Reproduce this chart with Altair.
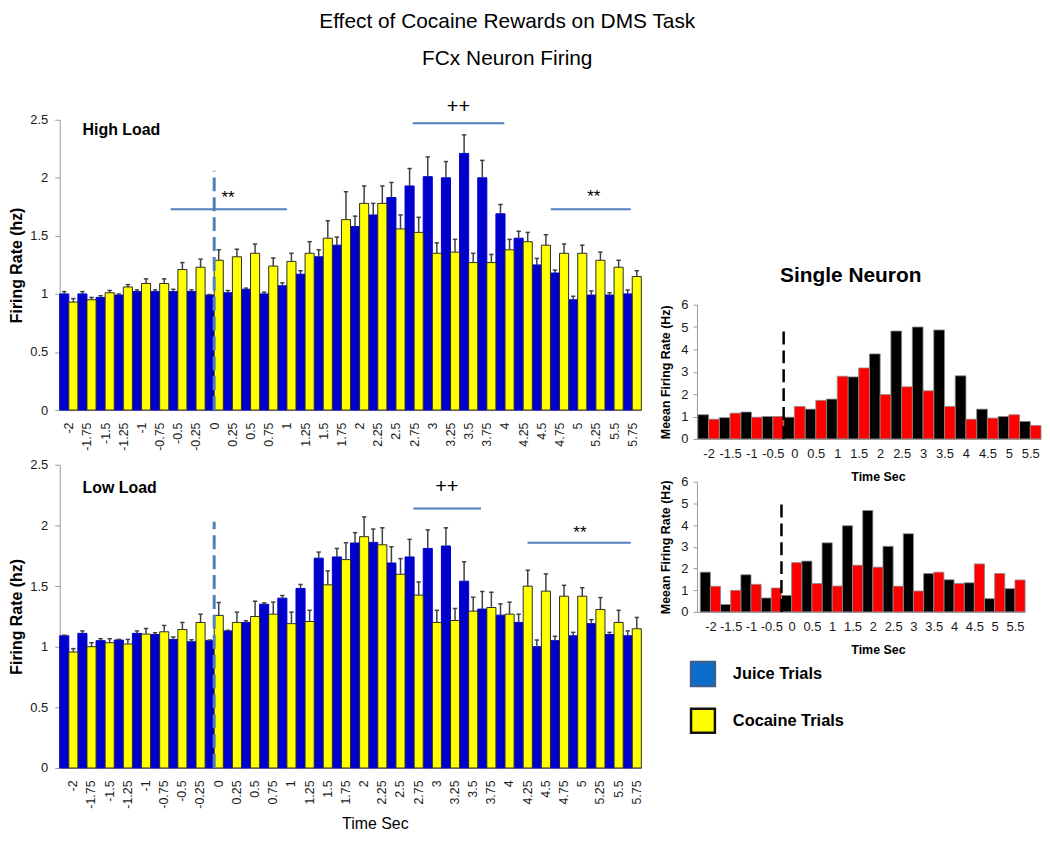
import altair as alt
import pandas as pd

FONT = "Liberation Sans"

main_title = ["Effect of Cocaine Rewards on DMS Task", "FCx Neuron Firing"]
series_names = ["Juice", "Cocaine"]
bar_colors = ["#0000cc", "#ffff00"]
bar_strokes = ["#0000cc", "#2b2b2b"]

times = [-2, -1.75, -1.5, -1.25, -1, -0.75, -0.5, -0.25, 0, 0.25, 0.5, 0.75, 1, 1.25, 1.5, 1.75,
         2, 2.25, 2.5, 2.75, 3, 3.25, 3.5, 3.75, 4, 4.25, 4.5, 4.75, 5, 5.25, 5.5, 5.75]

high_juice = [1.00, 1.00, 0.97, 0.99, 1.02, 1.02, 1.02, 1.02, 0.99, 1.01, 1.04, 1.00, 1.07, 1.17, 1.32, 1.42,
              1.58, 1.68, 1.83, 1.93, 2.01, 2.00, 2.21, 2.00, 1.69, 1.48, 1.25, 1.18, 0.95, 0.99, 0.99, 1.00]
high_juice_err = [0.02, 0.02, 0.015, 0.01, 0.015, 0.015, 0.02, 0.015, 0.005, 0.02, 0.01, 0.015, 0.025, 0.03, 0.06, 0.07,
                  0.09, 0.10, 0.13, 0.15, 0.17, 0.14, 0.16, 0.15, 0.08, 0.06, 0.056, 0.026, 0.03, 0.036, 0.02, 0.034]
high_cocaine = [0.93, 0.95, 1.01, 1.06, 1.09, 1.09, 1.21, 1.23, 1.29, 1.32, 1.35, 1.24, 1.28, 1.35, 1.48, 1.64,
                1.78, 1.78, 1.56, 1.53, 1.35, 1.36, 1.27, 1.27, 1.38, 1.45, 1.42, 1.35, 1.35, 1.29, 1.23, 1.15]
high_cocaine_err = [0.03, 0.02, 0.02, 0.02, 0.04, 0.04, 0.06, 0.07, 0.09, 0.065, 0.08, 0.07, 0.07, 0.10, 0.15, 0.24,
                    0.15, 0.15, 0.12, 0.13, 0.09, 0.11, 0.08, 0.07, 0.09, 0.08, 0.09, 0.08, 0.07, 0.07, 0.06, 0.05]

low_juice = [1.09, 1.11, 1.05, 1.055, 1.11, 1.10, 1.06, 1.04, 1.05, 1.13, 1.20, 1.35, 1.40, 1.48, 1.73, 1.74,
             1.855, 1.86, 1.69, 1.74, 1.81, 1.83, 1.54, 1.31, 1.26, 1.20, 1.00, 1.05, 1.09, 1.19, 1.10, 1.09]
low_juice_err = [0.005, 0.02, 0.016, 0.005, 0.02, 0.015, 0.02, 0.017, 0.005, 0.005, 0.014, 0.011, 0.022, 0.033, 0.05, 0.07,
                 0.085, 0.11, 0.134, 0.145, 0.153, 0.15, 0.16, 0.145, 0.093, 0.068, 0.055, 0.036, 0.028, 0.033, 0.018, 0.04]
low_cocaine = [0.956, 1.00, 1.033, 1.022, 1.104, 1.123, 1.142, 1.20, 1.258, 1.20, 1.249, 1.268, 1.19, 1.208, 1.51, 1.718,
               1.907, 1.84, 1.597, 1.425, 1.20, 1.216, 1.293, 1.323, 1.268, 1.499, 1.458, 1.416, 1.416, 1.307, 1.20, 1.148]
low_cocaine_err = [0.028, 0.033, 0.033, 0.038, 0.046, 0.052, 0.058, 0.068, 0.106, 0.085, 0.126, 0.10, 0.095, 0.092, 0.115, 0.139,
                   0.163, 0.14, 0.129, 0.109, 0.10, 0.099, 0.115, 0.126, 0.099, 0.131, 0.142, 0.09, 0.07, 0.098, 0.10, 0.093]

# significance annotations (time units / firing-rate units)
high_sig_x0 = [-0.6, 2.73, 4.63]
high_sig_x1 = [1.0, 3.99, 5.73]
high_sig_y = [1.73, 2.47, 1.73]
high_mark_text = ["**", "++", "**"]
high_mark_x = [0.19, 3.36, 5.22]
high_mark_y = [1.78, 2.56, 1.79]
high_mark_size = [17, 20, 17]
high_cue = [0, 0, 2.06]          # time, from, to

low_sig_x0 = [2.74, 4.31]
low_sig_x1 = [3.67, 5.73]
low_sig_y = [2.14, 1.856]
low_mark_text = ["++", "**"]
low_mark_x = [3.2, 5.03]
low_mark_y = [2.27, 1.90]
low_mark_size = [20, 17]
low_cue = [0, 0, 2.03]

# single neuron
sn_names = ["Juice", "Cocaine"]
sn_colors = ["#000000", "#ff0000"]
sn_times = [-2, -1.5, -1, -0.5, 0, 0.5, 1, 1.5, 2, 2.5, 3, 3.5, 4, 4.5, 5, 5.5]
sn_top_black = [1.08, 0.95, 1.20, 1.00, 0.97, 1.33, 1.78, 2.77, 3.80, 4.82, 5.00, 4.87, 2.82, 1.33, 1.00, 0.78]
sn_top_red = [0.88, 1.15, 0.97, 1.00, 1.45, 1.72, 2.80, 3.17, 1.98, 2.33, 2.15, 1.45, 0.88, 0.93, 1.08, 0.60]
sn_bot_black = [1.83, 0.34, 1.71, 0.64, 0.76, 2.34, 3.18, 3.97, 4.67, 3.02, 3.60, 1.77, 1.48, 1.34, 0.61, 1.07]
sn_bot_red = [1.18, 0.99, 1.27, 1.10, 2.27, 1.31, 1.19, 2.15, 2.06, 1.18, 0.96, 1.83, 1.31, 2.21, 1.77, 1.47]
sn_top_cue = [-0.25, 0, 4.89]
sn_bot_cue = [-0.25, 0, 5.08]

legend_labels = ["Juice Trials", "Cocaine Trials"]
legend_fills = ["#0b6ccc", "#ffff00"]
legend_edges = ["#3b5f8f", "#111111"]

SIG_COLOR = "#4f81bd"
left_y_ticks = [0, 0.5, 1, 1.5, 2, 2.5]
sn_y_ticks = [0, 1, 2, 3, 4, 5, 6]


def firing_panel(juice, juice_err, coc, coc_err, sig_x0, sig_x1, sig_y, mk_text, mk_x, mk_y, mk_size,
                 cue, label, label_y, height, show_title, label_offset):
    rows = []
    for i, (vals, errs) in enumerate(((juice, juice_err), (coc, coc_err))):
        for t, v, e in zip(times, vals, errs):
            rows.append({"t": t, "series": series_names[i], "v": v, "e": e,
                         "fill": bar_colors[i], "edge": bar_strokes[i]})
    df = pd.DataFrame(rows)
    xs = alt.Scale(domain=[-2.125, 5.875], nice=False, zero=False)
    ys = alt.Scale(domain=[0, 2.5], nice=False)
    xaxis = alt.Axis(values=times, labelExpr="'' + datum.value", labelAngle=270, ticks=False, tickSize=0,
                     labelPadding=12, labelFontSize=12.5, labelOffset=label_offset, labelOverlap=False,
                     grid=False,
                     title="Time Sec" if show_title else None, titleFontSize=16, titleFontWeight="normal",
                     titleX=317, titleY=48, titleBaseline="top")
    yaxis = alt.Axis(values=left_y_ticks, labelExpr="'' + datum.value", tickSize=5, labelPadding=7,
                     labelFontSize=13, labelOverlap=False, grid=False,
                     title="Firing Rate (hz)", titleFontSize=16, titleFontWeight="bold", titlePadding=5)

    def X(f):
        return alt.X(f, scale=xs, axis=xaxis)

    def Y(f):
        return alt.Y(f, scale=ys, axis=yaxis)

    base = alt.Chart(df).transform_calculate(
        x0="datum.series == 'Juice' ? datum.t - 0.125 : datum.t",
        x1="datum.series == 'Juice' ? datum.t : datum.t + 0.125",
        xc="datum.series == 'Juice' ? datum.t - 0.0625 : datum.t + 0.0625",
        cl="(datum.series == 'Juice' ? datum.t - 0.0625 : datum.t + 0.0625) - 0.03",
        cr="(datum.series == 'Juice' ? datum.t - 0.0625 : datum.t + 0.0625) + 0.03",
        top="datum.v + datum.e",
    )
    bars = base.mark_bar(strokeWidth=1).encode(
        x=X("x0:Q"), x2="x1:Q", y=Y("v:Q"), y2=alt.datum(0),
        color=alt.Color("fill:N", scale=None),
        stroke=alt.Stroke("edge:N", scale=None),
    )
    err = base.mark_rule(color="#404040", strokeWidth=1.5).encode(x=X("xc:Q"), y=Y("v:Q"), y2="top:Q")
    caps = base.mark_rule(color="#404040", strokeWidth=1.5).encode(x=X("cl:Q"), x2="cr:Q", y=Y("top:Q"))

    cue_df = pd.DataFrame({"t": [cue[0]], "a": [cue[1]], "b": [cue[2]]})
    cue_line = alt.Chart(cue_df).mark_rule(color=SIG_COLOR, strokeWidth=3, strokeDash=[14, 6]).encode(
        x=X("t:Q"), y=Y("a:Q"), y2="b:Q")

    sig_df = pd.DataFrame({"x0": sig_x0, "x1": sig_x1, "y": sig_y})
    sig = alt.Chart(sig_df).mark_rule(color=SIG_COLOR, strokeWidth=2).encode(
        x=X("x0:Q"), x2="x1:Q", y=Y("y:Q"))

    mk_df = pd.DataFrame({"s": mk_text, "x": mk_x, "y": mk_y, "fs": mk_size})
    marks = alt.Chart(mk_df).mark_text(font=FONT, baseline="alphabetic", align="center", color="#000").encode(
        x=X("x:Q"), y=Y("y:Q"), text="s:N", size=alt.Size("fs:Q", scale=None))

    lab_df = pd.DataFrame({"s": [label], "x": [-1.81], "y": [label_y]})
    lab = alt.Chart(lab_df).mark_text(font=FONT, fontSize=16, fontWeight="bold", align="left",
                                      baseline="alphabetic", color="#000").encode(
        x=X("x:Q"), y=Y("y:Q"), text="s:N")

    return alt.layer(bars, err, caps, cue_line, sig, marks, lab).properties(width=585, height=height)


def neuron_panel(black, red, cue, x_min, width, height, title=None):
    rows = []
    for i, vals in enumerate((black, red)):
        for t, v in zip(sn_times, vals):
            rows.append({"t": t, "series": sn_names[i], "v": v, "fill": sn_colors[i]})
    df = pd.DataFrame(rows)
    xs = alt.Scale(domain=[x_min, 5.75], nice=False, zero=False)
    ys = alt.Scale(domain=[0, 6], nice=False)
    xaxis = alt.Axis(values=sn_times, labelExpr="'' + datum.value", labelAngle=0, ticks=False, tickSize=0,
                     labelPadding=9, labelFontSize=13, labelOverlap=False, grid=False,
                     title="Time Sec", titleFontSize=12.5, titleFontWeight="bold", titlePadding=10,
                     titleX=182)
    yaxis = alt.Axis(values=sn_y_ticks, labelExpr="'' + datum.value", tickSize=4, labelPadding=5,
                     labelFontSize=13, labelOverlap=False, grid=False,
                     title="Meean Firing Rate (Hz)", titleFontSize=12.5, titleFontWeight="bold", titlePadding=8)

    def X(f):
        return alt.X(f, scale=xs, axis=xaxis)

    def Y(f):
        return alt.Y(f, scale=ys, axis=yaxis)

    base = alt.Chart(df).transform_calculate(
        x0="datum.series == 'Juice' ? datum.t - 0.25 : datum.t",
        x1="datum.series == 'Juice' ? datum.t : datum.t + 0.25",
    )
    bars = base.mark_bar(stroke="#8a8a8a", strokeWidth=0.8).encode(
        x=X("x0:Q"), x2="x1:Q", y=Y("v:Q"), y2=alt.datum(0),
        color=alt.Color("fill:N", scale=None),
    )
    cue_df = pd.DataFrame({"t": [cue[0]], "a": [cue[1]], "b": [cue[2]]})
    cue_line = alt.Chart(cue_df).mark_rule(color="#000", strokeWidth=2.5, strokeDash=[13, 6]).encode(
        x=X("t:Q"), y=Y("a:Q"), y2="b:Q")
    props = dict(width=width, height=height)
    if title is not None:
        props["title"] = alt.TitleParams(title, fontSize=21, fontWeight="bold", font=FONT, anchor="middle",
                                         frame="bounds", offset=13, color="#000")
    return alt.layer(bars, cue_line).properties(**props)


high = firing_panel(high_juice, high_juice_err, high_cocaine, high_cocaine_err,
                    high_sig_x0, high_sig_x1, high_sig_y, high_mark_text, high_mark_x, high_mark_y, high_mark_size,
                    high_cue, "High Load", 2.37, 292, False, 0)
low = firing_panel(low_juice, low_juice_err, low_cocaine, low_cocaine_err,
                   low_sig_x0, low_sig_x1, low_sig_y, low_mark_text, low_mark_x, low_mark_y, low_mark_size,
                   low_cue, "Low Load", 2.27, 305, True, 4)

sn1 = neuron_panel(sn_top_black, sn_top_red, sn_top_cue, -2.27, 346, 135, title="Single Neuron")
sn2 = neuron_panel(sn_bot_black, sn_bot_red, sn_bot_cue, -2.33, 330, 131)

spacer = alt.Chart(pd.DataFrame({"s": [0]})).mark_point(opacity=0).properties(width=10, height=143)

leg_df = pd.DataFrame({"label": legend_labels, "fill": legend_fills, "edge": legend_edges})
leg_y = alt.Y("label:N", sort=legend_labels, axis=None, scale=alt.Scale(type="point", padding=0.415))
leg_sq = alt.Chart(leg_df).mark_square(size=576, strokeWidth=2.5, opacity=1).encode(
    x=alt.value(6), y=leg_y,
    fill=alt.Fill("fill:N", scale=None),
    stroke=alt.Stroke("edge:N", scale=None),
)
leg_tx = alt.Chart(leg_df).mark_text(font=FONT, fontSize=16.5, fontWeight="bold", align="left",
                                     baseline="middle", color="#000").encode(
    x=alt.value(36), y=leg_y, text="label:N")
legend = alt.layer(leg_sq, leg_tx).properties(width=300, height=86)

left = alt.vconcat(high, low, spacing=55, bounds="flush")
right = alt.vconcat(spacer, sn1, sn2, legend, spacing=43, bounds="flush")

chart = alt.hconcat(left, right, spacing=16).properties(
    title=alt.TitleParams(main_title, fontSize=21, font=FONT, fontWeight="normal", lineHeight=37,
                          anchor="middle", dx=-18, offset=28, color="#000"),
    padding=0,
    background="white",
).configure_view(stroke=None).configure_axis(
    grid=False, labelOverlap=False, labelFont=FONT, titleFont=FONT, domainColor="#9a9a9a",
    tickColor="#9a9a9a", labelColor="#1a1a1a", titleColor="#000",
)

chart.save("out.html", embed_options={"renderer": "svg", "actions": False})
